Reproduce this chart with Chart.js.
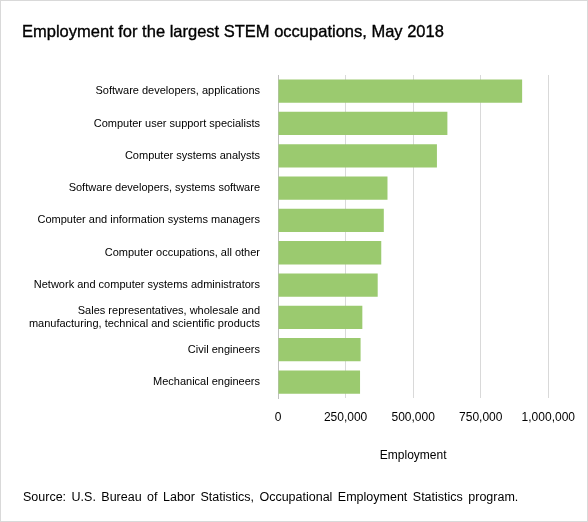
<!DOCTYPE html>
<html><head><meta charset="utf-8">
<script src="https://cdn.jsdelivr.net/npm/chart.js@4"></script>
<style>
body{margin:0;background:#fff;font-family:"Liberation Sans",Arial,sans-serif;}
#wrap{position:relative;width:586px;height:520px;border:1px solid #d9d9d9;}
#title{position:absolute;left:21px;top:21px;font-size:16.5px;color:#000;-webkit-text-stroke:0.35px #000;}
#src{position:absolute;left:22px;top:489px;font-size:12.5px;color:#000;word-spacing:2px;}
canvas{position:absolute;left:0;top:0;}
</style></head><body>
<div id="wrap">
<canvas id="c" width="586" height="520"></canvas>
<div id="title">Employment for the largest STEM occupations, May 2018</div>
<div id="src">Source: U.S. Bureau of Labor Statistics, Occupational Employment Statistics program.</div>
</div>
<script>
const categories = [
 "Software developers, applications",
 "Computer user support specialists",
 "Computer systems analysts",
 "Software developers, systems software",
 "Computer and information systems managers",
 "Computer occupations, all other",
 "Network and computer systems administrators",
 ["Sales representatives, wholesale and","manufacturing, technical and scientific products"],
 "Civil engineers",
 "Mechanical engineers"
];
const employment = [903160, 626650, 587970, 405050, 391430, 382000, 368830, 312000, 305550, 303560];
const tickValues = [0, 250000, 500000, 750000, 1000000];
new Chart(document.getElementById('c'), {
 type:'bar',
 data:{labels:categories, datasets:[{data:employment, backgroundColor:'#9bca6f', barPercentage:0.72, categoryPercentage:1}]},
 options:{
  indexAxis:'y', responsive:false, animation:false,
  layout:{padding:{left:14,right:37,top:74,bottom:54}},
  plugins:{legend:{display:false},tooltip:{enabled:false}},
  scales:{
   x:{min:0,max:1000000,
      afterBuildTicks:s=>{s.ticks=tickValues.map(v=>({value:v}));},
      ticks:{color:'#000',font:{family:'Liberation Sans',size:12},callback:v=>v.toLocaleString('en-US'),padding:12},
      grid:{color:'#d9d9d9',drawTicks:false},border:{display:false},
      title:{display:true,text:'Employment',color:'#000',font:{family:'Liberation Sans',size:12},padding:{top:12}}},
   y:{afterFit:s=>{s.width=263;},
      ticks:{color:'#000',font:{family:'Liberation Sans',size:11},padding:10},
      grid:{display:false},border:{color:'#bfbfbf'}}
  }
 }
});
</script>
</body></html>
